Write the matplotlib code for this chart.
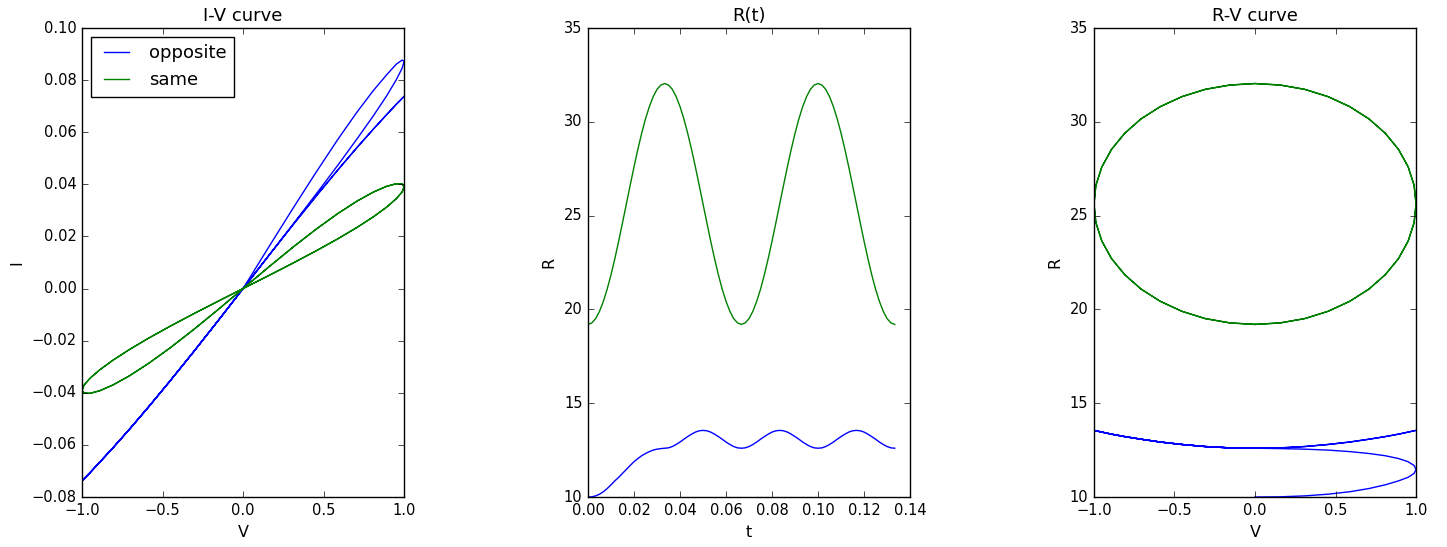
import matplotlib
matplotlib.use('Agg')
import matplotlib.pyplot as plt

# time samples read along the R(t) panel
t = [0.0, 0.00167, 0.00333, 0.005, 0.00667, 0.00833, 0.01, 0.01167, 0.01333, 0.015,
     0.01667, 0.01833, 0.02, 0.02167, 0.02333, 0.025, 0.02667, 0.02833, 0.03, 0.03167,
     0.03333, 0.035, 0.03667, 0.03833, 0.04, 0.04167, 0.04333, 0.045, 0.04667, 0.04833,
     0.05, 0.05167, 0.05333, 0.055, 0.05667, 0.05833, 0.06, 0.06167, 0.06333, 0.065,
     0.06667, 0.06833, 0.07, 0.07167, 0.07333, 0.075, 0.07667, 0.07833, 0.08, 0.08167,
     0.08333, 0.085, 0.08667, 0.08833, 0.09, 0.09167, 0.09333, 0.095, 0.09667, 0.09833,
     0.1, 0.10167, 0.10333, 0.105, 0.10667, 0.10833, 0.11, 0.11167, 0.11333, 0.115,
     0.11667, 0.11833, 0.12, 0.12167, 0.12333, 0.125, 0.12667, 0.12833, 0.13, 0.13167,
     0.13333]

# applied voltage at those samples
v = [0.0, 0.156, 0.309, 0.454, 0.588, 0.707, 0.809, 0.891, 0.951, 0.988,
     1.0, 0.988, 0.951, 0.891, 0.809, 0.707, 0.588, 0.454, 0.309, 0.156,
     0.0, -0.156, -0.309, -0.454, -0.588, -0.707, -0.809, -0.891, -0.951, -0.988,
     -1.0, -0.988, -0.951, -0.891, -0.809, -0.707, -0.588, -0.454, -0.309, -0.156,
     0.0, 0.156, 0.309, 0.454, 0.588, 0.707, 0.809, 0.891, 0.951, 0.988,
     1.0, 0.988, 0.951, 0.891, 0.809, 0.707, 0.588, 0.454, 0.309, 0.156,
     0.0, -0.156, -0.309, -0.454, -0.588, -0.707, -0.809, -0.891, -0.951, -0.988,
     -1.0, -0.988, -0.951, -0.891, -0.809, -0.707, -0.588, -0.454, -0.309, -0.156,
     0.0]

# resistance, opposite polarity (blue)
r_opposite = [10.00, 10.01, 10.06, 10.15, 10.28, 10.45, 10.65, 10.86, 11.05, 11.26,
              11.47, 11.68, 11.88, 12.05, 12.20, 12.32, 12.42, 12.50, 12.55, 12.58,
              12.60, 12.62, 12.69, 12.80, 12.93, 13.08, 13.22, 13.35, 13.46, 13.53,
              13.55, 13.53, 13.46, 13.35, 13.22, 13.08, 12.93, 12.80, 12.69, 12.62,
              12.60, 12.62, 12.69, 12.80, 12.93, 13.08, 13.22, 13.35, 13.46, 13.53,
              13.55, 13.53, 13.46, 13.35, 13.22, 13.08, 12.93, 12.80, 12.69, 12.62,
              12.60, 12.62, 12.69, 12.80, 12.93, 13.08, 13.22, 13.35, 13.46, 13.53,
              13.55, 13.53, 13.46, 13.35, 13.22, 13.08, 12.93, 12.80, 12.69, 12.62,
              12.60]

# resistance, same polarity (green)
r_same = [19.20, 19.28, 19.51, 19.90, 20.43, 21.08, 21.85, 22.71, 23.64, 24.62,
          25.62, 26.62, 27.60, 28.53, 29.39, 30.16, 30.81, 31.34, 31.73, 31.96,
          32.04, 31.96, 31.73, 31.34, 30.81, 30.16, 29.39, 28.53, 27.60, 26.62,
          25.62, 24.62, 23.64, 22.71, 21.85, 21.08, 20.43, 19.90, 19.51, 19.28,
          19.20, 19.28, 19.51, 19.90, 20.43, 21.08, 21.85, 22.71, 23.64, 24.62,
          25.62, 26.62, 27.60, 28.53, 29.39, 30.16, 30.81, 31.34, 31.73, 31.96,
          32.04, 31.96, 31.73, 31.34, 30.81, 30.16, 29.39, 28.53, 27.60, 26.62,
          25.62, 24.62, 23.64, 22.71, 21.85, 21.08, 20.43, 19.90, 19.51, 19.28,
          19.20]

# current, opposite polarity (blue)
i_opposite = [0.0, 0.0156, 0.0307, 0.0447, 0.0572, 0.0677, 0.0760, 0.0820, 0.0861, 0.0877,
              0.0872, 0.0846, 0.0801, 0.0739, 0.0663, 0.0574, 0.0473, 0.0363, 0.0246, 0.0124,
              0.0, -0.0124, -0.0244, -0.0355, -0.0455, -0.0541, -0.0612, -0.0667, -0.0707, -0.0730,
              -0.0738, -0.0730, -0.0707, -0.0667, -0.0612, -0.0541, -0.0455, -0.0355, -0.0244, -0.0124,
              0.0, 0.0124, 0.0244, 0.0355, 0.0455, 0.0541, 0.0612, 0.0667, 0.0707, 0.0730,
              0.0738, 0.0730, 0.0707, 0.0667, 0.0612, 0.0541, 0.0455, 0.0355, 0.0244, 0.0124,
              0.0, -0.0124, -0.0244, -0.0355, -0.0455, -0.0541, -0.0612, -0.0667, -0.0707, -0.0730,
              -0.0738, -0.0730, -0.0707, -0.0667, -0.0612, -0.0541, -0.0455, -0.0355, -0.0244, -0.0124,
              0.0]

# current, same polarity (green)
i_same = [0.0, 0.00811, 0.01584, 0.02281, 0.02877, 0.03354, 0.03703, 0.03923, 0.04023, 0.04012,
          0.03903, 0.03710, 0.03446, 0.03123, 0.02753, 0.02345, 0.01908, 0.01449, 0.00974, 0.00489,
          0.0, -0.00489, -0.00974, -0.01449, -0.01908, -0.02345, -0.02753, -0.03123, -0.03446, -0.03710,
          -0.03903, -0.04012, -0.04023, -0.03923, -0.03703, -0.03354, -0.02877, -0.02281, -0.01584, -0.00811,
          0.0, 0.00811, 0.01584, 0.02281, 0.02877, 0.03354, 0.03703, 0.03923, 0.04023, 0.04012,
          0.03903, 0.03710, 0.03446, 0.03123, 0.02753, 0.02345, 0.01908, 0.01449, 0.00974, 0.00489,
          0.0, -0.00489, -0.00974, -0.01449, -0.01908, -0.02345, -0.02753, -0.03123, -0.03446, -0.03710,
          -0.03903, -0.04012, -0.04023, -0.03923, -0.03703, -0.03354, -0.02877, -0.02281, -0.01584, -0.00811,
          0.0]

plt.style.use('classic')
plt.rcParams['font.family'] = ['DejaVu Sans']
plt.rcParams['font.size'] = 10.5
plt.rcParams['xtick.labelsize'] = 10.5
plt.rcParams['ytick.labelsize'] = 10.5
plt.rcParams['axes.labelsize'] = 11.5
plt.rcParams['axes.titlesize'] = 13
plt.rcParams['legend.fontsize'] = 13

fig, (ax1, ax2, ax3) = plt.subplots(1, 3, figsize=(14.47, 5.47), dpi=100)
fig.subplots_adjust(left=0.0567, right=0.9786, top=0.9488, bottom=0.0914, wspace=0.571)

# I-V curve
ax1.plot(v, i_opposite, 'b', label='opposite')
ax1.plot(v, i_same, 'g', label='same')
ax1.set_xlim(-1, 1)
ax1.set_ylim(-0.08, 0.10)
ax1.set_xticks([-1.0, -0.5, 0.0, 0.5, 1.0])
ax1.set_yticks([-0.08, -0.06, -0.04, -0.02, 0.0, 0.02, 0.04, 0.06, 0.08, 0.10])
ax1.set_title('I-V curve')
ax1.set_xlabel('V')
ax1.set_ylabel('I')
ax1.legend(loc='upper left')

# R(t)
ax2.plot(t, r_opposite, 'b')
ax2.plot(t, r_same, 'g')
ax2.set_xlim(0, 0.14)
ax2.set_ylim(10, 35)
ax2.set_title('R(t)')
ax2.set_xlabel('t')
ax2.set_ylabel('R')

# R-V curve
ax3.plot(v, r_opposite, 'b')
ax3.plot(v, r_same, 'g')
ax3.set_xlim(-1, 1)
ax3.set_ylim(10, 35)
ax3.set_xticks([-1.0, -0.5, 0.0, 0.5, 1.0])
ax3.set_title('R-V curve')
ax3.set_xlabel('V')
ax3.set_ylabel('R')

fig.savefig('out.png', dpi=100, facecolor='white')
